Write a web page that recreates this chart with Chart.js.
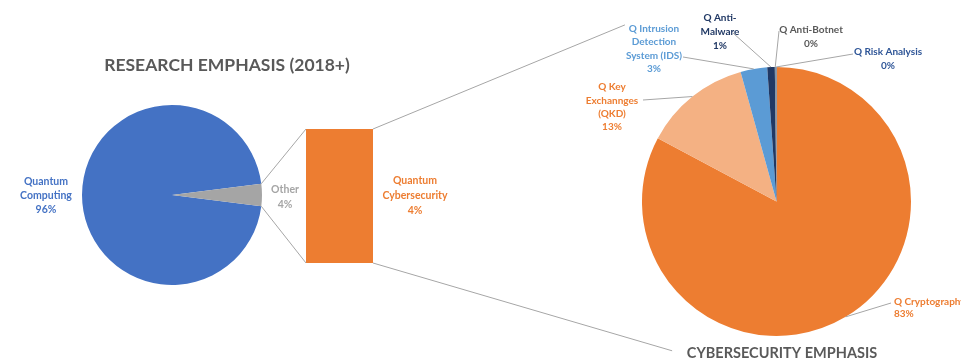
<!DOCTYPE html>
<html><head><meta charset="utf-8">
<script src="https://cdn.jsdelivr.net/npm/chart.js@4.4.1/dist/chart.umd.min.js"></script>
<style>
html,body{margin:0;padding:0;background:#fff;}
#wrap{position:relative;width:961px;height:361px;overflow:hidden;background:#fff;}
#wrap canvas{position:absolute;left:0;top:0;}
</style></head><body>
<div id="wrap">
<canvas id="cA" width="961" height="361"></canvas>
<canvas id="cB" width="961" height="361"></canvas>
<canvas id="cC" width="961" height="361"></canvas>
</div>
<script>
// ---------- DATA ----------
const researchTitle = 'RESEARCH EMPHASIS (2018+)';
const researchCategories = ['Quantum Computing', 'Other'];
const researchValues = [96, 4];
const researchLabelLines = [['Quantum', 'Computing'], ['Other']];

const detailCategories = ['Quantum Cybersecurity'];
const detailValues = [4];
const detailLabelLines = [['Quantum', 'Cybersecurity']];

const cyberTitle = 'CYBERSECURITY EMPHASIS';
const cyberCategories = ['Q Cryptography', 'Q Key Exchannges (QKD)', 'Q Intrusion Detection System (IDS)', 'Q Anti-Malware', 'Q Anti-Botnet', 'Q Risk Analysis'];
const cyberValues = [82.8, 12.9, 3.2, 0.9, 0.1, 0.1];
const cyberLabelLines = [['Q Cryptography'], ['Q Key', 'Exchannges', '(QKD)'], ['Q Intrusion', 'Detection', 'System (IDS)'], ['Q Anti-', 'Malware'], ['Q Anti-Botnet'], ['Q Risk Analysis']];

// ---------- STYLE / LAYOUT ----------
const FONT = 'Lato, "Open Sans", sans-serif';
const researchColors = ['#4472C4', '#A5A5A5'];
const detailColor = '#ED7D31';
const cyberColors = ['#ED7D31', '#F4B183', '#5B9BD5', '#203864', '#7F7F7F', '#2E75B6'];
const cyberTextColors = ['#ED7D31', '#ED7D31', '#5B9BD5', '#203864', '#595959', '#2E5597'];
const lineColor = '#A6A6A6';

const researchLabelPos = [{x: 46, y: 182, lh: 14}, {x: 285, y: 190, lh: 15}];
const detailLabelPos = {x: 415, y: 181, lh: 15};
const cyberLabelPos = [
  {x: 894, y: 302, lh: 12, align: 'left', ax: 891, ay: 303},
  {x: 612, y: 87, lh: 13.4, align: 'center', ax: 643, ay: 100},
  {x: 654, y: 29, lh: 13.2, align: 'center', ax: 683, ay: 57},
  {x: 720, y: 18, lh: 14, align: 'center', ax: 733, ay: 33},
  {x: 811, y: 30, lh: 14, align: 'center', ax: 779, ay: 31},
  {x: 888, y: 52, lh: 14, align: 'center', ax: 853, ay: 54}
];

function sum(a) { return a.reduce((s, v) => s + v, 0); }
function pct(v, tot) { return Math.round(v / tot * 100) + '%'; }
function drawText(ctx, lines, x, y, lh, align, color, font) {
  ctx.save();
  ctx.fillStyle = color; ctx.font = font; ctx.textAlign = align; ctx.textBaseline = 'middle';
  lines.forEach((t, i) => ctx.fillText(t, x, y + i * lh));
  ctx.restore();
}
function line(ctx, x1, y1, x2, y2) {
  ctx.beginPath(); ctx.moveTo(x1, y1); ctx.lineTo(x2, y2); ctx.stroke();
}

Chart.defaults.animation = false;
Chart.defaults.responsive = false;
Chart.defaults.devicePixelRatio = 1;
Chart.defaults.plugins.legend.display = false;
Chart.defaults.plugins.tooltip.enabled = false;
Chart.defaults.events = [];

const researchTotal = sum(researchValues);
const otherShare = researchValues[1] / researchTotal;

// ---------- LEFT PIE ----------
const chartA = new Chart(document.getElementById('cA'), {
  type: 'pie',
  data: {
    labels: researchCategories,
    datasets: [{data: researchValues, backgroundColor: researchColors, borderWidth: 0, hoverOffset: 0, hoverBorderWidth: 0}]
  },
  options: {
    rotation: 90 + otherShare * 180,
    layout: {padding: {left: 82, top: 105, right: 699, bottom: 76}}
  },
  plugins: [{
    id: 'labelsA',
    afterDraw(chart) {
      const ctx = chart.ctx;
      drawText(ctx, [researchTitle], 227, 65, 0, 'center', '#595959', 'bold 17.5px ' + FONT);
      researchLabelLines.forEach((ls, i) => {
        const p = researchLabelPos[i];
        drawText(ctx, ls.concat([pct(researchValues[i], researchTotal)]), p.x, p.y, p.lh, 'center', researchColors[i], 'bold 10.5px ' + FONT);
      });
    }
  }]
});

// ---------- MIDDLE BAR ----------
const chartB = new Chart(document.getElementById('cB'), {
  type: 'bar',
  data: {
    labels: detailCategories,
    datasets: [{data: detailValues, backgroundColor: detailColor, borderWidth: 0, barPercentage: 1, categoryPercentage: 1}]
  },
  options: {
    layout: {padding: {left: 306, top: 129, right: 588, bottom: 98}},
    scales: {
      x: {display: false},
      y: {display: false, min: 0, max: sum(detailValues)}
    }
  },
  plugins: [{
    id: 'labelsB',
    afterDraw(chart) {
      const p = detailLabelPos;
      drawText(chart.ctx, detailLabelLines[0].concat([pct(detailValues[0], researchTotal)]), p.x, p.y, p.lh, 'center', detailColor, 'bold 10.5px ' + FONT);
    }
  }]
});

// ---------- RIGHT PIE ----------
const cyberTotal = sum(cyberValues);
const chartC = new Chart(document.getElementById('cC'), {
  type: 'pie',
  data: {
    labels: cyberCategories,
    datasets: [{data: cyberValues, backgroundColor: cyberColors, borderWidth: 0, hoverOffset: 0, hoverBorderWidth: 0}]
  },
  options: {
    layout: {padding: {left: 642, top: 67, right: 50, bottom: 25}}
  },
  plugins: [{
    id: 'overlayC',
    afterDraw(chart) {
      const ctx = chart.ctx;
      ctx.save();
      ctx.strokeStyle = lineColor; ctx.lineWidth = 1;
      // connectors: left pie "Other" slice -> bar
      const arc = chartA.getDatasetMeta(0).data[1].getProps(['x', 'y', 'startAngle', 'endAngle', 'outerRadius'], true);
      const bar = chartB.getDatasetMeta(0).data[0].getProps(['x', 'y', 'base', 'width'], true);
      const bl = bar.x - bar.width / 2, br = bar.x + bar.width / 2;
      line(ctx, arc.x + Math.cos(arc.startAngle) * arc.outerRadius, arc.y + Math.sin(arc.startAngle) * arc.outerRadius, bl, bar.y);
      line(ctx, arc.x + Math.cos(arc.endAngle) * arc.outerRadius, arc.y + Math.sin(arc.endAngle) * arc.outerRadius, bl, bar.base);
      // connectors: bar -> right pie
      const meta = chart.getDatasetMeta(0);
      const a0 = meta.data[0].getProps(['x', 'y', 'outerRadius'], true);
      line(ctx, br, bar.y, a0.x - 1.127 * a0.outerRadius, a0.y - 1.313 * a0.outerRadius);
      line(ctx, br, bar.base, a0.x - 0.776 * a0.outerRadius, a0.y + 1.11 * a0.outerRadius);
      // leader lines
      meta.data.forEach((el, i) => {
        const p = el.getProps(['x', 'y', 'startAngle', 'endAngle', 'outerRadius'], true);
        const m = (p.startAngle + p.endAngle) / 2;
        const L = cyberLabelPos[i];
        line(ctx, p.x + Math.cos(m) * p.outerRadius, p.y + Math.sin(m) * p.outerRadius, L.ax, L.ay);
      });
      ctx.restore();
      // labels
      cyberLabelLines.forEach((ls, i) => {
        const L = cyberLabelPos[i];
        drawText(ctx, ls.concat([pct(cyberValues[i], cyberTotal)]), L.x, L.y, L.lh, L.align, cyberTextColors[i], 'bold 10px ' + FONT);
      });
      drawText(ctx, [cyberTitle], 782, 353, 0, 'center', '#595959', 'bold 14.5px ' + FONT);
    }
  }]
});
</script>
</body></html>
